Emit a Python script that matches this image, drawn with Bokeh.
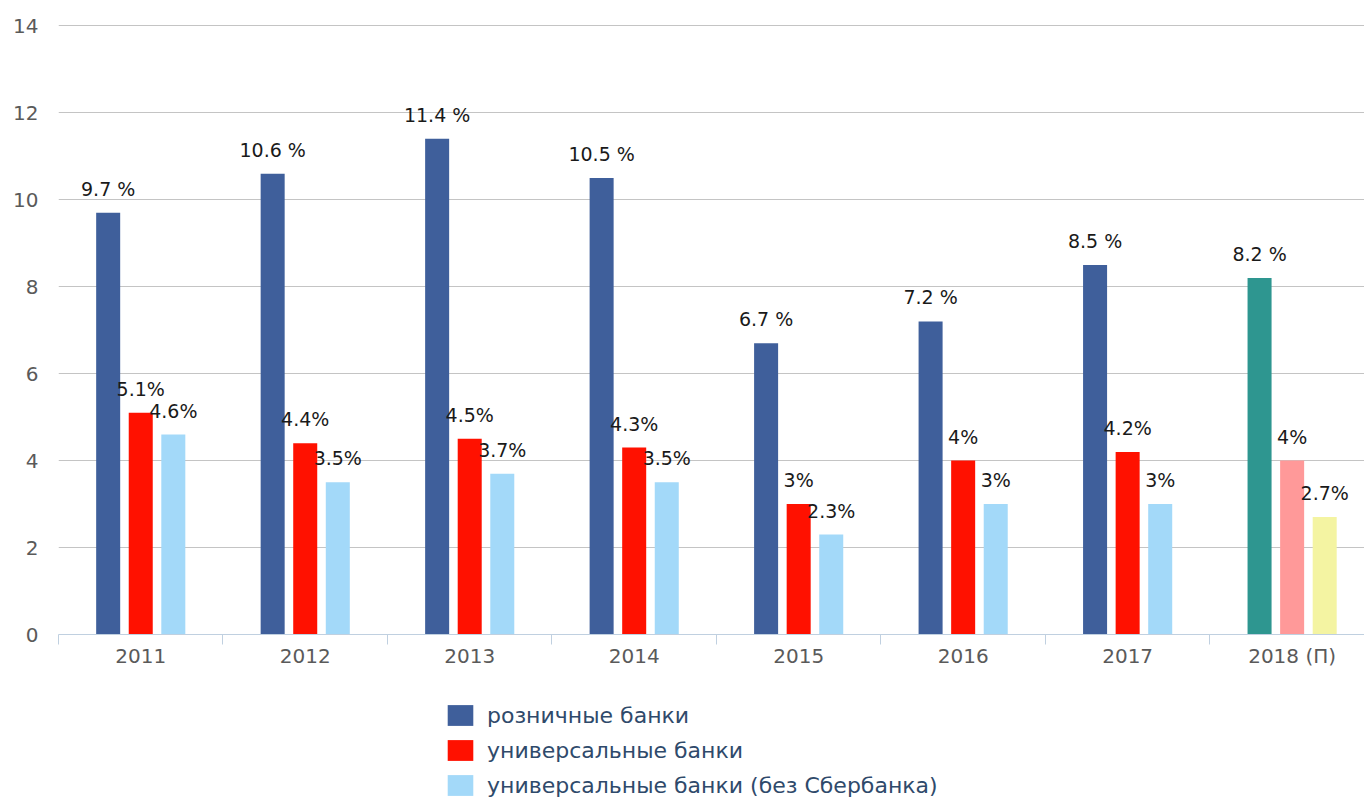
from bokeh.plotting import figure
from bokeh.models import ColumnDataSource, Range1d, FixedTicker, Legend, LegendItem
from bokeh.layouts import column
from bokeh.core.properties import value
from bokeh.embed import file_html
from bokeh.resources import INLINE

years = ["2011", "2012", "2013", "2014", "2015", "2016", "2017", "2018 (П)"]
retail = [9.7, 10.6, 11.4, 10.5, 6.7, 7.2, 8.5, 8.2]
universal = [5.1, 4.4, 4.5, 4.3, 3.0, 4.0, 4.2, 4.0]
universal_ex_sber = [4.6, 3.5, 3.7, 3.5, 2.3, 3.0, 3.0, 2.7]
series_names = ["розничные банки", "универсальные банки", "универсальные банки (без Сбербанка)"]

base_colors = ["#3F5F9B", "#FF1100", "#A3D9F9"]
forecast_colors = ["#2E9690", "#FF9999", "#F4F4A2"]

def fmt(v, space):
    s = ("%g" % v)
    return s + (" %" if space else "%")

FONT = "DejaVu Sans"

p = figure(width=1364, height=680, output_backend="svg", toolbar_location=None,
           x_range=Range1d(0, 7.94), y_range=Range1d(0, 14.03),
           min_border_left=58, min_border_right=0, min_border_top=24, min_border_bottom=46)
p.outline_line_color = None
p.background_fill_color = "white"
p.border_fill_color = "white"

offsets = [-0.198, 0.0, 0.198]
width = 0.146
all_series = [retail, universal, universal_ex_sber]
for k, vals in enumerate(all_series):
    xs = [i + 0.5 + offsets[k] for i in range(len(years))]
    cols = [base_colors[k]] * (len(years) - 1) + [forecast_colors[k]]
    labels = [fmt(v, k == 0) for v in vals]
    src = ColumnDataSource(dict(x=xs, top=vals, color=cols, label=labels))
    p.vbar(x="x", top="top", width=width, bottom=0, source=src,
           fill_color="color", line_color=None)
    p.text(x="x", y="top", text="label", source=src, text_align="center",
           text_baseline="alphabetic", y_offset=-24, text_font_size="19px",
           text_color="#1a1a1a", text_font=value(FONT))

# axes
p.xaxis.ticker = FixedTicker(ticks=[i + 0.5 for i in range(len(years))],
                             minor_ticks=list(range(len(years) + 1)))
p.xaxis.major_label_overrides = {i + 0.5: y for i, y in enumerate(years)}
p.xaxis.major_tick_line_color = None
p.xaxis.major_tick_out = 0
p.xaxis.major_tick_in = 0
p.xaxis.minor_tick_line_color = "#C0D0E0"
p.xaxis.minor_tick_in = 0
p.xaxis.minor_tick_out = 10
p.xaxis.axis_line_color = "#C0D0E0"
p.xaxis.major_label_text_font = FONT
p.xaxis.major_label_text_font_size = "20px"
p.xaxis.major_label_text_color = "#5A5A5A"
p.xaxis.major_label_standoff = -1

p.yaxis.ticker = FixedTicker(ticks=[0, 2, 4, 6, 8, 10, 12, 14])
p.yaxis.axis_line_color = None
p.yaxis.major_tick_line_color = None
p.yaxis.minor_tick_line_color = None
p.yaxis.major_label_text_font = FONT
p.yaxis.major_label_text_font_size = "20px"
p.yaxis.major_label_text_color = "#5A5A5A"
p.yaxis.major_label_standoff = 14

p.xgrid.grid_line_color = None
p.ygrid.grid_line_color = "#C4C4C4"
p.ygrid.grid_line_width = 1

# legend panel
lf = figure(width=1364, height=119, output_backend="svg", toolbar_location=None,
            x_range=Range1d(0, 1), y_range=Range1d(0, 1),
            min_border_left=0, min_border_right=0, min_border_top=0, min_border_bottom=0)
lf.axis.visible = False
lf.grid.visible = False
lf.outline_line_color = None
lf.background_fill_color = "white"
lf.border_fill_color = "white"
items = []
for k in range(3):
    r = lf.quad(left=[-5], right=[-4], bottom=[-5], top=[-4], fill_color=base_colors[k],
                line_color=None, border_radius=4)
    items.append(LegendItem(label=series_names[k], renderers=[r]))
legend = Legend(items=items, orientation="vertical", location=(386, 1), padding=0, margin=0,
                spacing=9, glyph_width=32, glyph_height=26, label_standoff=11,
                label_text_font=FONT, label_text_font_size="22px",
                label_text_color="#2F4A6B", border_line_color=None,
                background_fill_alpha=0)
lf.add_layout(legend, "center")

layout = column(p, lf, spacing=0)
open("out.html", "w").write(file_html(layout, INLINE))
